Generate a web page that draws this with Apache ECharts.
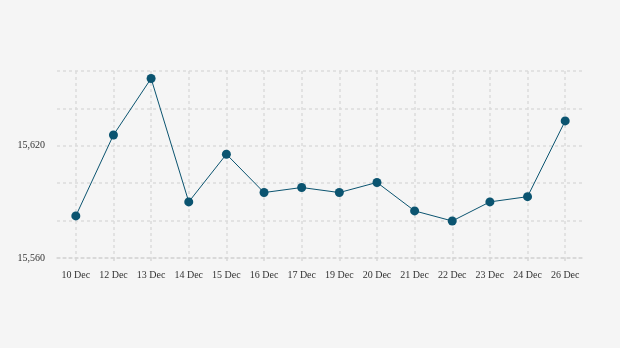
<!DOCTYPE html>
<html><head><meta charset="utf-8">
<script src="https://cdn.jsdelivr.net/npm/echarts@6/dist/echarts.min.js"></script>
<style>html,body{margin:0;padding:0;background:#f5f5f5}#c{width:620px;height:348px}</style>
</head><body><div id="c"></div>
<script>
const categories = ['10 Dec','12 Dec','13 Dec','14 Dec','15 Dec','16 Dec','17 Dec','19 Dec','20 Dec','21 Dec','22 Dec','23 Dec','24 Dec','26 Dec'];
const values = [15582.5,15625.8,15656,15590,15615.5,15595,15597.7,15595,15600.4,15585.2,15579.8,15590,15592.8,15633.3];
const yMin = 15560, yMax = 15660, yStep = 20, yLabelStep = 60;

const chart = echarts.init(document.getElementById('c'), null, {renderer:'canvas'});
chart.setOption({
  backgroundColor:'#f5f5f5',
  animation:false,
  grid:{left:57,right:36,top:71,bottom:90},
  xAxis:{
    type:'category', data:categories, boundaryGap:true,
    axisLine:{show:true,lineStyle:{color:'#d6d6d6',type:[3,3],width:1.5}},
    axisTick:{show:true,alignWithLabel:true,length:5,lineStyle:{color:'#d6d6d6',type:[3,3],width:1.5}},
    splitLine:{show:true,alignWithLabel:true,lineStyle:{color:'#dcdcdc',type:[3,3],width:1.5}},
    axisLabel:{color:'#333',fontFamily:'Liberation Serif',fontSize:10,margin:12}
  },
  yAxis:{
    type:'value', min:yMin, max:yMax, interval:yStep,
    axisLine:{show:false}, axisTick:{show:false},
    splitLine:{show:true,lineStyle:{color:'#dcdcdc',type:[3,3],width:1.5}},
    axisLabel:{color:'#333',fontFamily:'Liberation Serif',fontSize:10,margin:12,
      formatter:v=>((v-yMin)%yLabelStep===0?v.toLocaleString('en-US'):'')}
  },
  series:[{
    type:'line', data:values, symbol:'circle', symbolSize:9,
    itemStyle:{color:'#0b5470'}, lineStyle:{color:'#0b5470',width:1}
  }]
});
</script></body></html>
